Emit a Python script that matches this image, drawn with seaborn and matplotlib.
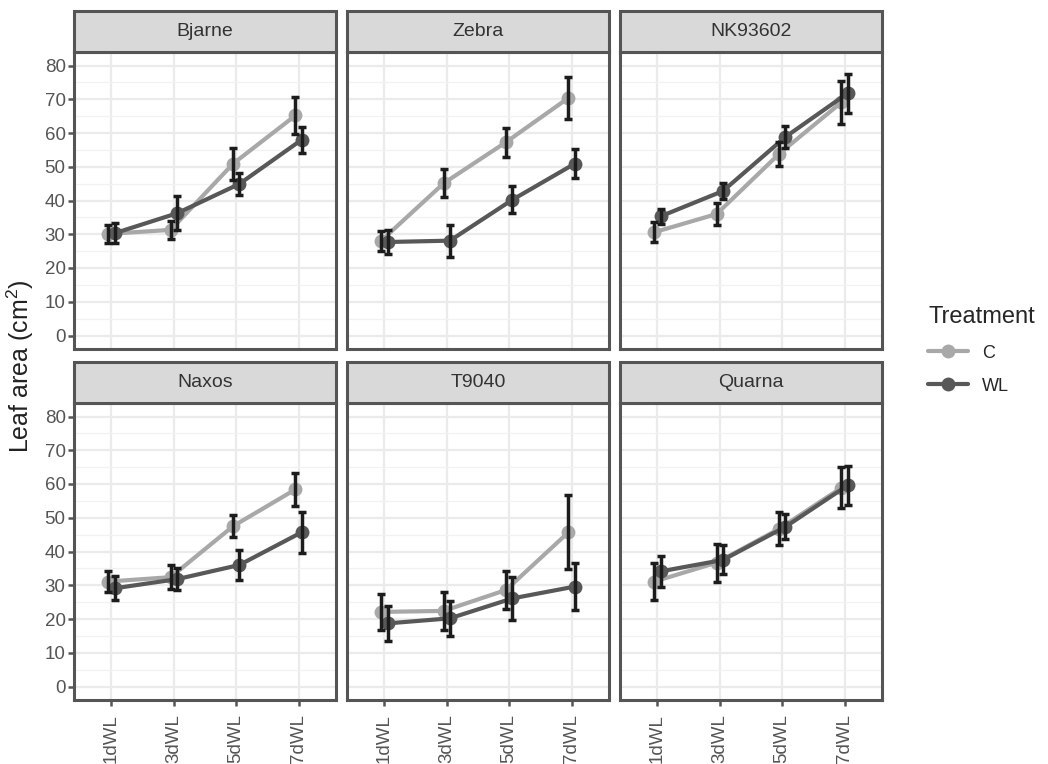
import numpy as np
import pandas as pd
import matplotlib
matplotlib.use("Agg")
import matplotlib.pyplot as plt
import seaborn as sns
from matplotlib.patches import Rectangle

# ---- data: mean leaf area (cm²) and standard error per variety / stage ----
varieties = ["Bjarne", "Zebra", "NK93602", "Naxos", "T9040", "Quarna"]
stages = ["1dWL", "3dWL", "5dWL", "7dWL"]
treatments = ["C", "WL"]

c_mean = [
    [30.1, 31.3, 50.9, 65.2],
    [28.1, 45.1, 57.3, 70.4],
    [30.6, 36.0, 53.8, 69.1],
    [31.1, 32.4, 47.5, 58.4],
    [22.1, 22.4, 28.6, 45.7],
    [31.1, 36.7, 46.7, 58.9],
]
c_se = [
    [2.6, 2.7, 4.8, 5.4],
    [3.0, 4.2, 4.3, 6.3],
    [2.9, 3.3, 3.5, 6.4],
    [3.0, 3.5, 3.3, 5.0],
    [5.3, 5.6, 5.5, 11.0],
    [5.5, 5.6, 4.9, 6.0],
]
wl_mean = [
    [30.3, 36.2, 44.9, 58.0],
    [27.7, 28.1, 40.2, 50.9],
    [35.3, 42.8, 58.8, 71.8],
    [29.1, 31.8, 36.0, 45.7],
    [18.7, 20.2, 26.1, 29.6],
    [34.1, 37.5, 47.3, 59.6],
]
wl_se = [
    [3.0, 5.0, 3.3, 3.9],
    [3.6, 4.7, 4.0, 4.3],
    [2.3, 2.4, 3.2, 5.8],
    [3.6, 3.2, 4.3, 6.0],
    [5.1, 5.1, 6.3, 7.0],
    [4.6, 4.3, 3.7, 5.7],
]

# ---- long table ----
rows = []
offsets = {"C": -0.05, "WL": 0.05}
for vi, var in enumerate(varieties):
    for si, st in enumerate(stages):
        rows.append(dict(Variety=var, Stage=st, Treatment="C",
                         area=c_mean[vi][si], se=c_se[vi][si],
                         xpos=si + offsets["C"]))
        rows.append(dict(Variety=var, Stage=st, Treatment="WL",
                         area=wl_mean[vi][si], se=wl_se[vi][si],
                         xpos=si + offsets["WL"]))
df = pd.DataFrame(rows)

palette = {"C": "#a8a8a8", "WL": "#585858"}

sns.set_theme(style="white")
plt.rcParams["font.family"] = ["Liberation Sans", "DejaVu Sans"]
plt.rcParams["mathtext.fontset"] = "custom"
plt.rcParams["mathtext.rm"] = "Liberation Sans"
plt.rcParams["mathtext.default"] = "regular"

W, H = 1048, 764
fig = plt.figure(figsize=(W / 100, H / 100), dpi=100)

col_left = [74, 347, 620]
panel_w = 262
row_top = [52, 403]
panel_h = 297
strip_h = 41
border = "#555555"

handles = labels = None
for i, var in enumerate(varieties):
    r, c = divmod(i, 3)
    x0 = col_left[c]
    y_top = row_top[r]
    ax = fig.add_axes([x0 / W, 1 - (y_top + panel_h) / H, panel_w / W, panel_h / H])
    sub = df[df["Variety"] == var]

    sns.lineplot(data=sub, x="xpos", y="area", hue="Treatment",
                 hue_order=treatments, palette=palette, estimator=None,
                 marker="o", markersize=10, markeredgewidth=0,
                 linewidth=3.0, ax=ax, legend=(i == 0), zorder=3)
    for t in treatments:
        s = sub[sub["Treatment"] == t]
        ax.errorbar(s["xpos"], s["area"], yerr=s["se"], fmt="none",
                    ecolor="#1c1c1c", elinewidth=2.5, capsize=2.6,
                    capthick=2.5, zorder=4)

    if i == 0:
        handles, labels = ax.get_legend_handles_labels()
        ax.get_legend().remove()

    ax.set_xlim(-0.6, 3.6)
    ax.set_ylim(-4, 84)
    ax.set_xticks(range(len(stages)))
    ax.set_yticks(range(0, 81, 10))
    ax.set_yticks(range(5, 80, 10), minor=True)
    ax.grid(which="major", color="#ebebeb", linewidth=1.6)
    ax.grid(which="minor", axis="y", color="#f2f2f2", linewidth=0.9)
    ax.set_axisbelow(True)
    ax.set_xlabel("")
    ax.set_ylabel("")

    ax.tick_params(which="major", length=4, width=1.8, color=border,
                   labelcolor="#555555", labelsize=13.5, pad=2,
                   left=True, bottom=True)
    ax.tick_params(which="minor", length=0)
    if c == 0:
        ax.set_yticklabels([str(v) for v in range(0, 81, 10)])
    else:
        ax.tick_params(axis="y", labelleft=False, left=False)
    if r == 1:
        ax.set_xticklabels(stages, rotation=90, va="top", ha="center")
        ax.tick_params(axis="x", pad=6)
    else:
        ax.tick_params(axis="x", labelbottom=False, bottom=False)

    for sp in ax.spines.values():
        sp.set_color(border)
        sp.set_linewidth(2.2)

    # facet strip
    strip = Rectangle((0, 1), 1, strip_h / panel_h, transform=ax.transAxes,
                      facecolor="#d9d9d9", edgecolor=border, linewidth=2.2,
                      clip_on=False, zorder=5)
    ax.add_patch(strip)
    ax.text(0.5, 1 + strip_h / panel_h / 2, var, transform=ax.transAxes,
            ha="center", va="center", fontsize=14, color="#333333",
            zorder=6)

fig.text(20 / W, 1 - 366 / H, "Leaf area (cm$^2$)", rotation=90,
         ha="center", va="center", fontsize=18, color="#222222")

leg = fig.legend(handles, labels, title="Treatment", loc="upper left",
                 bbox_to_anchor=(912 / W, 1 - 290 / H), frameon=False,
                 fontsize=13, title_fontsize=17, handlelength=2.2,
                 labelspacing=0.9, alignment="left")

fig.savefig("out.png", dpi=100)
